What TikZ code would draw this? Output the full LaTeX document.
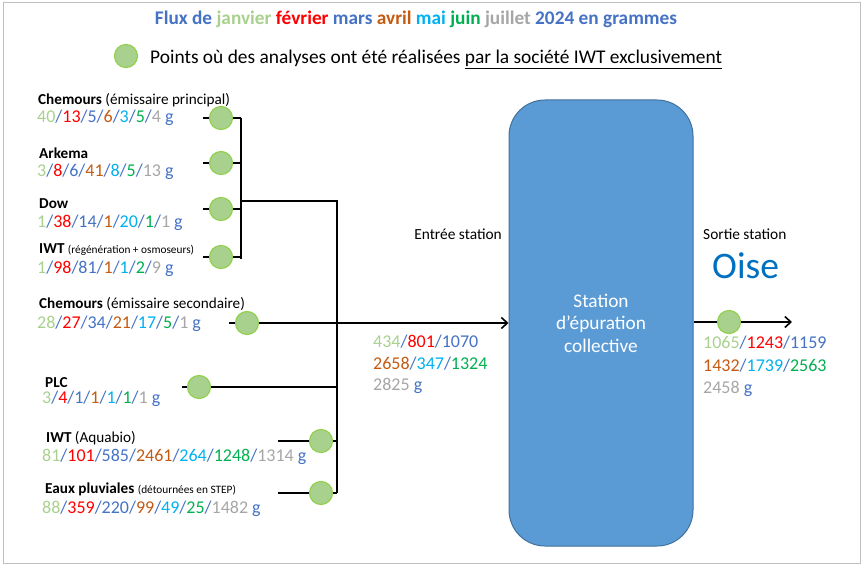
\documentclass[tikz,border=0pt]{standalone}
\usepackage{fontspec}
\setmainfont{Carlito}
\usepackage{xcolor}
\usetikzlibrary{positioning,arrows.meta}

\definecolor{cjan}{HTML}{A9D18E}
\definecolor{cfev}{HTML}{FF0000}
\definecolor{cmar}{HTML}{4472C4}
\definecolor{cavr}{HTML}{C55A11}
\definecolor{cmai}{HTML}{00B0F0}
\definecolor{cjun}{HTML}{00B050}
\definecolor{cjul}{HTML}{A6A6A6}
\definecolor{cring}{HTML}{92D050}
\definecolor{cstat}{HTML}{5B9BD5}
\definecolor{cstatb}{HTML}{41719C}
\definecolor{coise}{HTML}{0070C0}
\definecolor{cframe}{HTML}{BFBFBF}

\newcommand{\barre}{\textcolor{cmar}{/}}
\newcommand{\flux}[7]{\textcolor{cjan}{#1}\barre\textcolor{cfev}{#2}\barre\textcolor{cmar}{#3}\barre\textcolor{cavr}{#4}\barre\textcolor{cmai}{#5}\barre\textcolor{cjun}{#6}\barre\textcolor{cjul}{#7} \textcolor{cmar}{g}}
\newcommand{\petit}[1]{{\fontsize{11.3}{13}\selectfont #1}}

\begin{document}
\begin{tikzpicture}[x=1pt,y=-1pt,
    pt/.style={circle,fill=cjan,draw=cring,line width=1.2pt,minimum size=23pt,inner sep=0pt},
    src/.style={anchor=base west,inner sep=0pt,font=\fontsize{15.2}{18}\selectfont},
    val/.style={anchor=base west,inner sep=0pt,font=\fontsize{18}{22}\selectfont},
    wire/.style={line width=1.8pt},
    arr/.style={-{Straight Barb[length=6pt,width=11pt,line width=1.6pt]}}]
\useasboundingbox (0,0) rectangle (866,569);
\draw[cframe,line width=1pt] (3,3) rectangle (860,563);

\node[anchor=base,inner sep=0pt,font=\fontsize{19.3}{22}\selectfont\bfseries] (title) at (416,25) {\textcolor{cmar}{Flux de} \textcolor{cjan}{janvier} \textcolor{cfev}{février} \textcolor{cmar}{mars} \textcolor{cavr}{avril} \textcolor{cmai}{mai} \textcolor{cjun}{juin} \textcolor{cjul}{juillet} \textcolor{cmar}{2024 en grammes}};
\node[pt] (leg) at (126,56) {};
\node[anchor=base west,inner sep=0pt,font=\fontsize{19.4}{22}\selectfont] (legt) at (150,64) {Points où des analyses ont été réalisées \underline{par la société IWT exclusivement}};

\node[rectangle,rounded corners=36pt,fill=cstat,draw=cstatb,line width=1pt,minimum width=184pt,minimum height=446pt,align=center,text=white,font=\fontsize{19.3}{22.5}\selectfont] (station) at (601,323) {Station\\d’épuration\\collective};

\node[pt] (chp) at (221,118) {};
\node[pt] (ark) at (221,163) {};
\node[pt] (dow) at (221,209) {};
\node[pt] (iwr) at (221,257) {};
\node[pt] (chs) at (247,323) {};
\node[pt] (plc) at (199,387) {};
\node[pt] (aqu) at (321,441) {};
\node[pt] (eau) at (321,493) {};
\node[pt] (sor) at (729,322) {};

\node[src] (chpt) at (38,105) {\textbf{Chemours} (émissaire principal)};
\node[val] (chpv) at (37,123) {\flux{40}{13}{5}{6}{3}{5}{4}};
\node[src] (arkt) at (39,159) {\textbf{Arkema}};
\node[val] (arkv) at (37,177) {\flux{3}{8}{6}{41}{8}{5}{13}};
\node[src] (dowt) at (39,208) {\textbf{Dow}};
\node[val] (dowv) at (37,227) {\flux{1}{38}{14}{1}{20}{1}{1}};
\node[src] (iwrt) at (39,253) {\textbf{IWT} \petit{(régénération + osmoseurs)}};
\node[val] (iwrv) at (37,273) {\flux{1}{98}{81}{1}{1}{2}{9}};
\node[src] (chst) at (39,308) {\textbf{Chemours} (émissaire secondaire)};
\node[val] (chsv) at (37,328) {\flux{28}{27}{34}{21}{17}{5}{1}};
\node[src] (plct) at (45,387) {\textbf{PLC}};
\node[val] (plcv) at (42,403) {\flux{3}{4}{1}{1}{1}{1}{1}};
\node[src] (aqut) at (46,442) {\textbf{IWT} (Aquabio)};
\node[val] (aquv) at (42,461) {\flux{81}{101}{585}{2461}{264}{1248}{1314}};
\node[src] (eaut) at (45,493) {\textbf{Eaux pluviales} \petit{(détournées en STEP)}};
\node[val] (eauv) at (42,513) {\flux{88}{359}{220}{99}{49}{25}{1482}};

\node[src,anchor=base east,font=\fontsize{15.4}{18}\selectfont] (entree) at (502,240) {Entrée station};
\node[val] (entv1) at (373,347) {\textcolor{cjan}{434}\barre\textcolor{cfev}{801}\barre\textcolor{cmar}{1070}};
\node[val] (entv2) at (373,369) {\textcolor{cavr}{2658}\barre\textcolor{cmai}{347}\barre\textcolor{cjun}{1324}};
\node[val] (entv3) at (373,390) {\textcolor{cjul}{2825} \textcolor{cmar}{g}};
\node[src,font=\fontsize{15.4}{18}\selectfont] (sortie) at (703,240) {Sortie station};
\node[src,font=\fontsize{37.5}{42}\selectfont,text=coise] (oise) at (712,278) {Oise};
\node[val] (sorv1) at (703,348) {\textcolor{cjan}{1065}\barre\textcolor{cfev}{1243}\barre\textcolor{cmar}{1159}};
\node[val] (sorv2) at (703,371) {\textcolor{cavr}{1432}\barre\textcolor{cmai}{1739}\barre\textcolor{cjun}{2563}};
\node[val] (sorv3) at (703,393) {\textcolor{cjul}{2458} \textcolor{cmar}{g}};

\coordinate (b1t) at (241,118);
\coordinate (b1b) at (241,259);
\coordinate (b1m) at (241,201);
\coordinate (b2t) at (337,201);
\coordinate (b2b) at (337,493);
\coordinate (chps) at (203,118);
\coordinate (arks) at (203,163);
\coordinate (dows) at (203,209);
\coordinate (iwrs) at (203,257);
\coordinate (chss) at (229,323);
\coordinate (plcs) at (182,387);
\coordinate (aqus) at (278,441);
\coordinate (eaus) at (278,493);
\coordinate (out) at (792,322);

\begin{scope}[wire]
    \draw (b1t) -- (b1b);
    \draw (b1m) -- (b2t) -- (b2b);
    \draw (chps) -- (chp) -- (chp-|b1t);
    \draw (arks) -- (ark) -- (ark-|b1t);
    \draw (dows) -- (dow) -- (dow-|b1t);
    \draw (iwrs) -- (iwr) -- (iwr-|b1t);
    \draw (plcs) -- (plc) -- (plc-|b2t);
    \draw (aqus) -- (aqu) -- (aqu-|b2t);
    \draw (eaus) -- (eau) -- (eau-|b2t);
    \draw (chss) -- (chs);
    \draw[arr] (chs) -- (station.west|-chs);
    \draw (station.east|-sor) -- (sor);
    \draw[arr] (sor) -- (out);
\end{scope}
\end{tikzpicture}
\end{document}
